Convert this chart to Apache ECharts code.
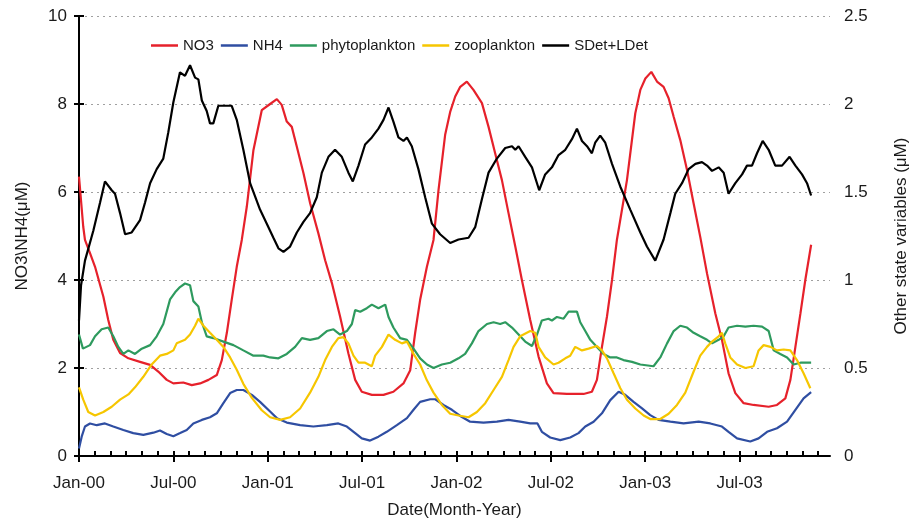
<!DOCTYPE html>
<html>
<head>
<meta charset="utf-8">
<script src="https://cdn.jsdelivr.net/npm/echarts@6/dist/echarts.min.js"></script>
<style>
  html, body { margin: 0; padding: 0; background: #fff; }
  #chart { width: 911px; height: 522px; }
</style>
</head>
<body>
<div id="chart"></div>
<script>
// Time axis in months since Jan-2000; tick labels every six months
const tickMonths = [0, 6, 12, 18, 24, 30, 36, 42];
const tickLabels = ['Jan-00', 'Jul-00', 'Jan-01', 'Jul-01', 'Jan-02', 'Jul-02', 'Jan-03', 'Jul-03'];
const monthTicks = Array.from({ length: 48 }, (_, i) => i);

// NO3 (μM, left axis): [month, value]
const no3 = [
  [0, 6.35], [0.27, 5.21], [0.38, 4.91], [0.7, 4.61], [1.02, 4.3], [1.55, 3.62], [1.86, 3.09],
  [2.18, 2.64], [2.61, 2.34], [3.14, 2.22], [3.88, 2.14], [4.52, 2.07], [5.04, 1.92], [5.58, 1.73],
  [6.0, 1.65], [6.63, 1.67], [7.17, 1.61], [7.7, 1.65], [8.23, 1.73], [8.76, 1.84], [9.08, 2.18],
  [9.4, 2.8], [9.71, 3.55], [10.03, 4.3], [10.35, 4.91], [10.67, 5.67], [11.09, 6.95], [11.62, 7.86],
  [12.15, 8.0], [12.58, 8.11], [12.89, 7.98], [13.21, 7.6], [13.53, 7.48], [13.85, 7.03], [14.27, 6.43],
  [14.7, 5.74], [15.22, 5.06], [15.65, 4.45], [16.08, 3.93], [16.6, 3.17], [17.13, 2.33], [17.56, 1.73],
  [17.98, 1.46], [18.62, 1.39], [19.36, 1.39], [19.99, 1.46], [20.63, 1.65], [21.06, 1.95], [21.37, 2.79],
  [21.69, 3.55], [22.12, 4.3], [22.54, 4.91], [22.86, 6.05], [23.28, 7.3], [23.6, 7.82], [23.92, 8.17],
  [24.24, 8.39], [24.66, 8.51], [25.08, 8.32], [25.62, 8.02], [26.04, 7.48], [26.46, 6.88], [26.89, 6.27],
  [27.31, 5.52], [27.74, 4.76], [28.16, 4.0], [28.69, 3.09], [29.22, 2.26], [29.75, 1.65], [30.17, 1.43],
  [31.02, 1.41], [32.08, 1.41], [32.61, 1.46], [32.93, 1.73], [33.25, 2.48], [33.57, 3.17], [33.89, 4.0],
  [34.2, 4.91], [34.84, 6.27], [35.37, 7.79], [35.69, 8.32], [36.01, 8.58], [36.39, 8.73], [36.75, 8.51],
  [37.17, 8.39], [37.49, 8.13], [37.81, 7.71], [38.23, 7.18], [38.66, 6.5], [39.08, 5.74], [39.5, 4.98],
  [39.93, 4.15], [40.46, 3.24], [40.88, 2.64], [41.3, 1.88], [41.73, 1.43], [42.26, 1.2], [42.89, 1.16],
  [43.85, 1.12], [44.38, 1.16], [44.91, 1.31], [45.23, 1.73], [45.55, 2.48], [45.87, 3.24], [46.18, 4.0],
  [46.55, 4.8]
];

// NH4 (μM, left axis)
const nh4 = [
  [0, 0.17], [0.17, 0.44], [0.38, 0.67], [0.7, 0.74], [1.13, 0.7], [1.65, 0.74], [2.18, 0.67],
  [2.82, 0.59], [3.45, 0.52], [4.09, 0.48], [4.73, 0.53], [5.15, 0.58], [5.58, 0.5], [6.0, 0.45],
  [6.43, 0.52], [6.85, 0.59], [7.27, 0.74], [7.81, 0.82], [8.33, 0.88], [8.76, 0.97], [9.18, 1.2],
  [9.61, 1.43], [10.03, 1.5], [10.45, 1.5], [10.99, 1.39], [11.51, 1.23], [12.15, 1.01], [12.58, 0.86],
  [13.21, 0.76], [14.06, 0.7], [14.9, 0.67], [15.76, 0.7], [16.49, 0.74], [17.03, 0.67], [17.56, 0.52],
  [17.98, 0.4], [18.51, 0.35], [19.04, 0.44], [19.57, 0.55], [20.21, 0.7], [20.85, 0.86], [21.27, 1.05],
  [21.69, 1.23], [22.33, 1.29], [22.65, 1.29], [23.17, 1.16], [23.71, 1.05], [24.24, 0.91], [24.87, 0.78],
  [25.72, 0.76], [26.57, 0.78], [27.31, 0.82], [28.05, 0.78], [28.69, 0.74], [29.15, 0.74], [29.43, 0.55],
  [29.96, 0.42], [30.6, 0.36], [31.23, 0.42], [31.76, 0.52], [32.19, 0.67], [32.72, 0.78], [33.25, 0.97],
  [33.78, 1.27], [34.31, 1.46], [34.73, 1.39], [35.26, 1.23], [35.8, 1.08], [36.32, 0.93], [36.85, 0.82],
  [37.6, 0.78], [38.44, 0.74], [39.4, 0.78], [40.14, 0.74], [40.88, 0.67], [41.3, 0.55], [41.84, 0.4],
  [42.68, 0.33], [43.21, 0.4], [43.75, 0.55], [44.38, 0.63], [45.02, 0.78], [45.55, 1.05], [46.07, 1.31],
  [46.55, 1.45]
];

// Phytoplankton (μM, right axis)
const phyto = [
  [0, 0.69], [0.25, 0.61], [0.7, 0.63], [1.02, 0.68], [1.44, 0.72], [1.86, 0.73], [2.18, 0.68],
  [2.5, 0.62], [2.82, 0.58], [3.14, 0.6], [3.56, 0.58], [3.99, 0.61], [4.52, 0.63], [4.94, 0.68],
  [5.36, 0.75], [5.79, 0.89], [6.11, 0.93], [6.42, 0.96], [6.74, 0.98], [7.06, 0.97], [7.27, 0.88],
  [7.59, 0.85], [7.81, 0.76], [8.12, 0.68], [8.54, 0.67], [9.18, 0.65], [9.82, 0.63], [10.45, 0.6],
  [11.09, 0.57], [11.72, 0.57], [12.15, 0.56], [12.68, 0.555], [13.21, 0.58], [13.74, 0.62], [14.17, 0.67],
  [14.69, 0.66], [15.22, 0.67], [15.76, 0.71], [16.18, 0.72], [16.6, 0.69], [17.03, 0.71], [17.35, 0.75],
  [17.56, 0.83], [17.88, 0.82], [18.3, 0.84], [18.62, 0.86], [19.04, 0.84], [19.47, 0.86], [19.68, 0.79],
  [19.99, 0.73], [20.42, 0.67], [20.85, 0.66], [21.27, 0.61], [21.69, 0.555], [22.12, 0.52], [22.54, 0.5],
  [23.07, 0.52], [23.6, 0.53], [24.13, 0.555], [24.55, 0.58], [24.98, 0.64], [25.4, 0.71], [25.94, 0.75],
  [26.36, 0.76], [26.78, 0.75], [27.1, 0.76], [27.53, 0.73], [27.95, 0.69], [28.37, 0.65], [28.8, 0.625],
  [29.12, 0.69], [29.43, 0.77], [29.85, 0.78], [30.07, 0.77], [30.39, 0.79], [30.81, 0.78], [31.13, 0.82],
  [31.66, 0.82], [31.87, 0.76], [32.19, 0.71], [32.51, 0.66], [32.93, 0.62], [33.35, 0.58], [33.78, 0.56],
  [34.2, 0.56], [34.62, 0.545], [35.16, 0.535], [35.69, 0.52], [36.53, 0.51], [36.96, 0.56], [37.39, 0.64],
  [37.81, 0.71], [38.23, 0.74], [38.66, 0.73], [39.08, 0.7], [39.5, 0.68], [39.93, 0.66], [40.25, 0.64],
  [40.67, 0.66], [40.99, 0.68], [41.3, 0.73], [41.84, 0.74], [42.37, 0.735], [42.89, 0.74], [43.43, 0.735],
  [43.85, 0.71], [44.17, 0.6], [44.59, 0.58], [45.02, 0.56], [45.44, 0.52], [45.87, 0.53], [46.55, 0.53]
];

// Zooplankton (μM, right axis)
const zoo = [
  [0, 0.39], [0.27, 0.32], [0.59, 0.25], [1.02, 0.23], [1.55, 0.25], [2.08, 0.28], [2.61, 0.32],
  [3.14, 0.35], [3.56, 0.39], [4.09, 0.45], [4.62, 0.52], [5.15, 0.57], [5.58, 0.58], [6.0, 0.6],
  [6.21, 0.64], [6.74, 0.66], [7.06, 0.69], [7.38, 0.74], [7.59, 0.78], [7.91, 0.74], [8.33, 0.7],
  [8.76, 0.66], [9.18, 0.62], [9.61, 0.56], [10.03, 0.49], [10.45, 0.41], [10.99, 0.33], [11.62, 0.26],
  [12.15, 0.22], [12.79, 0.205], [13.42, 0.22], [14.06, 0.27], [14.69, 0.36], [15.22, 0.45], [15.65, 0.545],
  [16.08, 0.62], [16.49, 0.67], [16.81, 0.675], [17.13, 0.64], [17.45, 0.57], [17.77, 0.53], [18.19, 0.53],
  [18.62, 0.51], [18.83, 0.57], [19.26, 0.62], [19.68, 0.69], [20.1, 0.66], [20.53, 0.64], [20.85, 0.65],
  [21.27, 0.58], [21.69, 0.52], [22.12, 0.43], [22.54, 0.36], [23.07, 0.29], [23.6, 0.24], [24.13, 0.23],
  [24.77, 0.22], [25.3, 0.25], [25.83, 0.3], [26.36, 0.375], [26.89, 0.45], [27.31, 0.545], [27.63, 0.62],
  [28.05, 0.68], [28.69, 0.71], [29.01, 0.7], [29.22, 0.62], [29.64, 0.56], [30.17, 0.52], [30.49, 0.53],
  [30.92, 0.555], [31.23, 0.57], [31.55, 0.62], [31.98, 0.6], [32.4, 0.61], [32.93, 0.625], [33.25, 0.6],
  [33.57, 0.555], [33.99, 0.47], [34.42, 0.385], [34.84, 0.32], [35.37, 0.27], [35.9, 0.23], [36.32, 0.21],
  [36.96, 0.21], [37.49, 0.24], [38.02, 0.29], [38.55, 0.36], [39.08, 0.48], [39.5, 0.57], [39.93, 0.62],
  [40.25, 0.65], [40.67, 0.68], [40.88, 0.7], [41.09, 0.64], [41.41, 0.56], [41.84, 0.52], [42.37, 0.5],
  [42.89, 0.51], [43.21, 0.6], [43.53, 0.63], [43.96, 0.62], [44.38, 0.6], [44.8, 0.605], [45.23, 0.6],
  [45.65, 0.545], [46.07, 0.47], [46.5, 0.385]
];

// Small + large detritus (μM, right axis)
const detritus = [
  [0, 0.77], [0.13, 0.97], [0.38, 1.11], [0.91, 1.28], [1.34, 1.44], [1.65, 1.56], [2.08, 1.51],
  [2.29, 1.49], [2.61, 1.38], [2.93, 1.26], [3.35, 1.27], [3.88, 1.34], [4.2, 1.44], [4.52, 1.55],
  [4.94, 1.63], [5.36, 1.69], [5.68, 1.84], [6.0, 2.01], [6.42, 2.18], [6.74, 2.16], [7.06, 2.22],
  [7.38, 2.15], [7.59, 2.14], [7.81, 2.02], [8.12, 1.96], [8.33, 1.89], [8.54, 1.89], [8.86, 1.99],
  [9.71, 1.99], [10.03, 1.91], [10.45, 1.74], [10.88, 1.55], [11.51, 1.4], [11.94, 1.32], [12.36, 1.24],
  [12.68, 1.18], [13.0, 1.16], [13.42, 1.19], [13.85, 1.27], [14.27, 1.33], [14.69, 1.38], [15.12, 1.47],
  [15.44, 1.61], [15.86, 1.7], [16.28, 1.74], [16.71, 1.7], [17.13, 1.61], [17.41, 1.56], [17.77, 1.65],
  [18.19, 1.77], [18.62, 1.81], [19.04, 1.86], [19.36, 1.91], [19.68, 1.98], [19.99, 1.9], [20.31, 1.81],
  [20.63, 1.79], [20.85, 1.81], [21.16, 1.76], [21.58, 1.63], [22.01, 1.47], [22.44, 1.32], [22.96, 1.26],
  [23.6, 1.21], [24.13, 1.23], [24.77, 1.24], [25.19, 1.3], [25.62, 1.46], [26.04, 1.61], [26.57, 1.69],
  [27.1, 1.75], [27.53, 1.76], [27.74, 1.74], [27.95, 1.76], [28.37, 1.7], [28.8, 1.64], [29.26, 1.51],
  [29.64, 1.6], [30.07, 1.64], [30.49, 1.71], [30.92, 1.74], [31.34, 1.8], [31.66, 1.86], [31.98, 1.79],
  [32.3, 1.76], [32.61, 1.72], [32.82, 1.78], [33.14, 1.82], [33.46, 1.78], [33.89, 1.66], [34.42, 1.53],
  [35.05, 1.4], [35.69, 1.27], [36.11, 1.19], [36.64, 1.11], [37.17, 1.23], [37.6, 1.38], [37.91, 1.49],
  [38.34, 1.55], [38.76, 1.63], [39.19, 1.66], [39.61, 1.67], [39.93, 1.65], [40.25, 1.62], [40.67, 1.64],
  [40.99, 1.61], [41.3, 1.49], [41.73, 1.55], [42.16, 1.6], [42.47, 1.65], [42.79, 1.65], [43.11, 1.72],
  [43.47, 1.79], [43.85, 1.74], [44.27, 1.65], [44.7, 1.65], [45.18, 1.7], [45.55, 1.65], [45.97, 1.6],
  [46.29, 1.55], [46.55, 1.48]
];

const FONT = "'Liberation Sans', Arial, Helvetica, sans-serif";
const INK = '#1a1a1a';

const chart = echarts.init(document.getElementById('chart'), null, { renderer: 'canvas' });

function lineSeries(name, data, color, yAxisIndex) {
  return {
    name, type: 'line', data, yAxisIndex, xAxisIndex: 0,
    showSymbol: false, symbol: 'none', smooth: false,
    lineStyle: { color, width: 2.2 }, itemStyle: { color },
    animation: false
  };
}

chart.setOption({
  backgroundColor: '#ffffff',
  animation: false,
  textStyle: { fontFamily: FONT },
  grid: { left: 79, right: 81, top: 16, bottom: 66, containLabel: false, outerBoundsMode: 'none' },
  legend: {
    left: 146, top: 33,
    icon: 'rect', itemWidth: 27, itemHeight: 2.5, itemGap: 7,
    textStyle: { fontFamily: FONT, fontSize: 15, color: INK },
    data: ['NO3', 'NH4', 'phytoplankton', 'zooplankton', 'SDet+LDet']
  },
  xAxis: [
    {
      // main time axis: monthly ticks pointing into the plot, half-year labels
      type: 'value', min: 0, max: 47.75, position: 'bottom',
      name: 'Date(Month-Year)', nameLocation: 'middle', nameGap: 46,
      nameTextStyle: { fontFamily: FONT, fontSize: 17, color: INK },
      axisLine: { show: true, lineStyle: { color: '#000', width: 2 } },
      axisTick: { show: true, inside: true, length: 5, customValues: monthTicks, lineStyle: { color: '#000', width: 2 } },
      axisLabel: {
        customValues: tickMonths, margin: 19,
        fontFamily: FONT, fontSize: 17, color: INK,
        formatter: v => tickLabels[tickMonths.indexOf(Math.round(v))] || ''
      },
      splitLine: { show: false }
    },
    {
      // half-year marks extending below the axis line
      type: 'value', min: 0, max: 47.75, position: 'bottom',
      axisLine: { show: false },
      axisTick: { show: true, inside: false, length: 6, customValues: tickMonths, lineStyle: { color: '#000', width: 2 } },
      axisLabel: { show: false },
      splitLine: { show: false }
    }
  ],
  yAxis: [
    {
      type: 'value', min: 0, max: 10, interval: 2, position: 'left',
      name: 'NO3\\NH4(μM)', nameLocation: 'middle', nameGap: 48, nameRotate: 90,
      nameTextStyle: { fontFamily: FONT, fontSize: 17, color: INK },
      axisLine: { show: true, lineStyle: { color: '#000', width: 2 } },
      axisTick: { show: true, inside: true, length: 5, lineStyle: { color: '#000', width: 2 } },
      axisLabel: { margin: 12, fontFamily: FONT, fontSize: 17, color: INK },
      splitLine: { show: true, lineStyle: { color: '#a0a0a0', type: [2, 4], width: 1.2 } }
    },
    {
      type: 'value', min: 0, max: 2.5, interval: 0.5, position: 'right',
      name: 'Other state variables (μM)', nameLocation: 'middle', nameGap: 63, nameRotate: 90,
      nameTextStyle: { fontFamily: FONT, fontSize: 17, color: INK },
      axisLine: { show: true, lineStyle: { color: '#000', width: 2 } },
      axisTick: { show: true, inside: true, length: 5, lineStyle: { color: '#000', width: 2 } },
      axisLabel: { margin: 14, fontFamily: FONT, fontSize: 17, color: INK },
      splitLine: { show: false }
    }
  ],
  series: [
    lineSeries('NO3', no3, '#e6212b', 0),
    lineSeries('NH4', nh4, '#2f4ea2', 0),
    lineSeries('phytoplankton', phyto, '#2e9a5e', 1),
    lineSeries('zooplankton', zoo, '#f6c600', 1),
    lineSeries('SDet+LDet', detritus, '#000000', 1)
  ]
});
</script>
</body>
</html>
